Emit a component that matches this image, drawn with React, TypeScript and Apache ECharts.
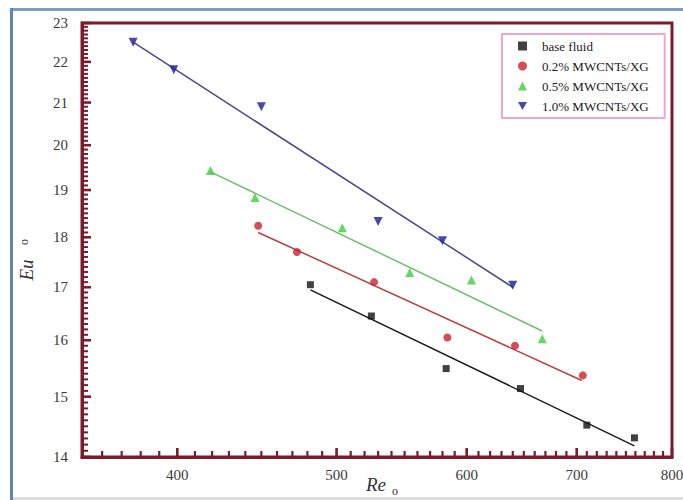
import React, { useEffect, useRef } from "react";
import * as echarts from "echarts";

// Re_o values and Eu_o values
const reBase = [482, 525, 583, 647, 710, 759];
const euBase = [17.05, 16.45, 15.49, 15.14, 14.52, 14.31];
const re02 = [448, 473, 527, 584, 642, 706];
const eu02 = [18.24, 17.7, 17.1, 16.05, 15.9, 15.37];
const re05 = [419, 446, 504, 554, 604, 667];
const eu05 = [19.43, 18.84, 18.2, 17.29, 17.14, 16.03];
const re10 = [376, 398, 450, 530, 580, 640];
const eu10 = [22.5, 21.8, 20.9, 18.33, 17.93, 17.04];

// fitted lines (start and end)
const fitReBase = [482, 759];
const fitEuBase = [16.95, 14.18];
const fitRe02 = [448, 705];
const fitEu02 = [18.1, 15.28];
const fitRe05 = [419, 667];
const fitEu05 = [19.4, 16.17];
const fitRe10 = [376, 640];
const fitEu10 = [22.5, 17.0];

const seriesNames = ["base fluid", "0.2% MWCNTs/XG", "0.5% MWCNTs/XG", "1.0% MWCNTs/XG"];

const xMin = 350;
const xMax = 800;
const xMajor = [400, 500, 600, 700, 800];
const yMin = 14;
const yMax = 23;
const yMajor = [14, 15, 16, 17, 18, 19, 20, 21, 22, 23];

const L = (v: number) => Math.log10(v);

const xMinor: number[] = [];
for (let v = 360; v < 800; v += 10) if (v % 100 !== 0) xMinor.push(v);
const yMinor: number[] = [];
for (let i = 141; i < 230; i++) if (i % 10 !== 0) yMinor.push(i / 10);

const FONT = "Liberation Serif";
const FRAME = "#7d1a2c";

const GRID = { left: 82, top: 23, width: 590, height: 434 };

function pts(xs: number[], ys: number[]) {
  return xs.map((x, i) => [L(x), L(ys[i])]);
}

export default function App() {
  const ref = useRef<HTMLDivElement>(null);
  useEffect(() => {
    if (!ref.current) return;
    const chart = echarts.init(ref.current, undefined, { renderer: "svg" });
    const markerColors = ["#111111", "#cc1f2e", "#3ccc3c", "#1c1c96"];
    const lineColors = ["#1a1a1a", "#b84040", "#6cbf6c", "#4a4a8a"];
    const symbols = ["rect", "circle", "triangle", "path://M0,0 L10,0 L5,9 Z"];
    const sizes = [7, 8, 9, 9];
    const data = [
      [reBase, euBase, fitReBase, fitEuBase],
      [re02, eu02, fitRe02, fitEu02],
      [re05, eu05, fitRe05, fitEu05],
      [re10, eu10, fitRe10, fitEu10],
    ];
    const series: any[] = [];
    data.forEach((d, i) => {
      series.push({
        type: "line",
        name: "fit " + seriesNames[i],
        data: pts(d[2], d[3]),
        showSymbol: false,
        lineStyle: { color: lineColors[i], width: 1.5 },
        silent: true,
        z: 2,
      });
    });
    data.forEach((d, i) => {
      series.push({
        type: "scatter",
        name: seriesNames[i],
        data: pts(d[0], d[1]),
        symbol: symbols[i],
        symbolSize: sizes[i],
        itemStyle: { color: markerColors[i] },
        z: 3,
      });
    });

    // tick marks: one two-point line series per tick, placed through the axes
    const yPerPx = (L(yMax) - L(yMin)) / GRID.height;
    const xPerPx = (L(xMax) - L(xMin)) / GRID.width;
    const addTicks = (vals: number[], isX: boolean, lenPx: number, w: number) => {
      vals.forEach((v, k) => {
        const seg = isX
          ? [[L(v), L(yMin)], [L(v), L(yMin) + lenPx * yPerPx]]
          : [[L(xMin), L(v)], [L(xMin) + lenPx * xPerPx, L(v)]];
        series.push({
          type: "line",
          name: (isX ? "xt" : "yt") + lenPx + "_" + k,
          silent: true,
          clip: false,
          z: 8,
          showSymbol: false,
          symbol: "none",
          lineStyle: { color: FRAME, width: w, cap: "butt" },
          data: seg,
        });
      });
    };
    addTicks(xMajor, true, 9, 2.6);
    addTicks(xMinor, true, 6, 2.2);
    addTicks(yMajor, false, 9, 2.6);
    addTicks(yMinor, false, 6, 2);

    const labelStyle = { fontFamily: FONT, fontSize: 15, color: "#3a3a3a" };
    chart.setOption({
      animation: false,
      backgroundColor: "#ffffff",
      grid: {
        ...GRID,
        show: true,
        borderColor: FRAME,
        borderWidth: 3,
        outerBoundsMode: "none",
      },
      legend: {
        data: seriesNames,
        orient: "vertical",
        left: 502,
        top: 34,
        padding: [5, 16, 5, 16],
        itemWidth: 9,
        itemHeight: 9,
        itemGap: 6,
        borderColor: "#f2a7c9",
        borderWidth: 2,
        textStyle: { fontFamily: FONT, fontSize: 13, color: "#222", lineHeight: 14, padding: [0, 0, 0, 10] },
      },
      xAxis: {
        type: "value",
        min: L(xMin),
        max: L(xMax),
        position: "bottom",
        axisLine: { show: true, lineStyle: { color: FRAME, width: 3 } },
        axisTick: { show: false },
        axisLabel: {
          ...labelStyle,
          margin: 10,
          customValues: xMajor.map(L),
          formatter: (v: number) => String(Math.round(Math.pow(10, v))),
        },
        splitLine: { show: false },
      },
      yAxis: {
        type: "value",
        min: L(yMin),
        max: L(yMax),
        position: "left",
        axisLine: { show: true, lineStyle: { color: FRAME, width: 3 } },
        axisTick: { show: false },
        axisLabel: {
          ...labelStyle,
          margin: 14,
          customValues: yMajor.map(L),
          formatter: (v: number) => String(Math.round(Math.pow(10, v))),
        },
        splitLine: { show: false },
      },
      graphic: [
        { type: "rect", left: 10, top: 8, shape: { width: 673, height: 3 }, style: { fill: "#7a9cc8" }, z: 10 },
        { type: "rect", left: 10, top: 8, shape: { width: 3, height: 492 }, style: { fill: "#5f84b8" }, z: 10 },
        { type: "rect", left: 13, top: 497, shape: { width: 670, height: 3 }, style: { fill: "#dcdcdc" }, z: 10 },
        {
          type: "text",
          x: 366,
          y: 475,
          style: { text: "Re", fontFamily: FONT, fontStyle: "italic", fontSize: 19, fill: "#333" },
          z: 10,
        },
        {
          type: "text",
          x: 392,
          y: 485,
          style: { text: "o", fontFamily: FONT, fontSize: 12, fill: "#333" },
          z: 10,
        },
        {
          type: "text",
          x: 26,
          y: 270,
          rotation: Math.PI / 2,
          style: {
            text: "Eu",
            fontFamily: FONT,
            fontStyle: "italic",
            fontSize: 19,
            fill: "#333",
            align: "center",
            verticalAlign: "middle",
          },
          z: 10,
        },
        {
          type: "text",
          x: 24,
          y: 242,
          rotation: Math.PI / 2,
          style: {
            text: "o",
            fontFamily: FONT,
            fontSize: 12,
            fill: "#333",
            align: "center",
            verticalAlign: "middle",
          },
          z: 10,
        },
      ],
      series,
    });
    return () => chart.dispose();
  }, []);
  return (
    <div
      ref={ref}
      style={{ position: "fixed", left: 0, top: 0, width: 683, height: 500, background: "#fff" }}
    />
  );
}
